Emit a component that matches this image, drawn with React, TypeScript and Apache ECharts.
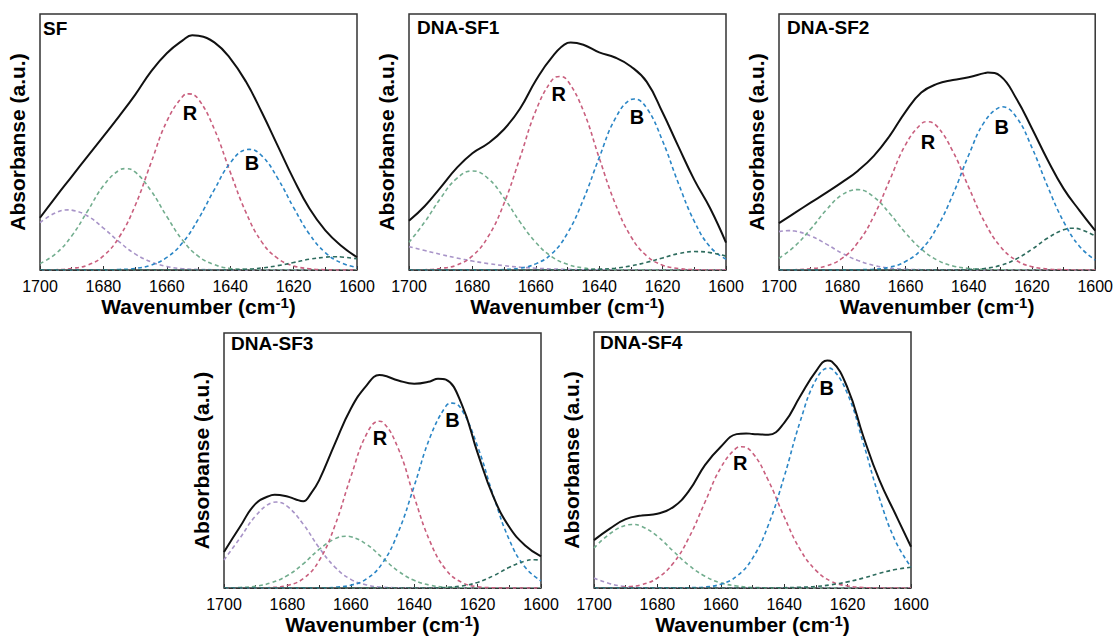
import React, { useEffect, useRef } from "react";
import * as echarts from "echarts";

// Sample positions (cm-1), left to right on the reversed axis
const wavenumbers = [1700, 1695, 1690, 1685, 1680, 1675, 1670, 1665, 1660, 1655, 1650, 1645, 1640, 1635, 1630, 1625, 1620, 1615, 1610, 1605, 1600];

const panelNames = ["SF", "DNA-SF1", "DNA-SF2", "DNA-SF3", "DNA-SF4"];

// SF
const sfTotal = [20.4, 28.6, 36.5, 44.4, 52.2, 60.1, 68.4, 77.5, 84.7, 89.7, 91.5, 88.9, 82.7, 73.5, 61.5, 48.5, 35.5, 24.0, 15.5, 9.5, 5.0];
const sfPurple = [18.5, 22.4, 23.4, 21.1, 16.4, 11.0, 6.3, 3.2, 1.4, 0.5, 0.2, 0.1, 0, 0, 0, 0, 0, 0, 0, 0, 0];
const sfGreen = [2.5, 6.4, 13.3, 23.0, 32.9, 39.0, 38.3, 31.0, 20.9, 11.6, 5.3, 2.1, 0.6, 0.2, 0, 0, 0, 0, 0, 0, 0];
const sfR = [0, 0.1, 0.6, 1.9, 5.5, 12.9, 25.1, 41.8, 58.1, 67.8, 66.7, 55.0, 38.3, 22.4, 10.9, 4.5, 1.6, 0.5, 0.1, 0, 0];
const sfB = [0, 0, 0, 0, 0, 0.2, 0.6, 1.9, 4.9, 10.7, 20.0, 31.4, 41.8, 47.0, 44.6, 35.8, 24.4, 14.0, 6.8, 2.8, 1.0];
const sfTeal = [0, 0, 0, 0, 0, 0, 0, 0, 0, 0, 0, 0, 0.1, 0.3, 0.8, 1.7, 2.9, 4.2, 5.0, 5.1, 4.4];
// extrema read between the sample positions: [wavenumber, value]
const sfPeaks = {
  purple: [[1691, 23.5]],
  green: [[1673, 39.6]],
  r: [[1653, 68.8]],
  b: [[1634, 47.1]],
  teal: [[1607, 5.2]],
  total: [[1652, 91.7]],
};

// DNA-SF1
const sf1Total = [19.2, 25.0, 32.3, 39.8, 45.6, 49.5, 55.0, 63.0, 74.0, 83.0, 88.7, 88.0, 85.0, 83.0, 79.5, 73.5, 61.5, 48.2, 35.2, 24.1, 10.7];
const sf1Purple = [9.1, 7.6, 6.1, 4.7, 3.5, 2.5, 1.7, 1.1, 0.7, 0.4, 0.25, 0.1, 0.1, 0, 0, 0, 0, 0, 0, 0, 0];
const sf1Green = [10.8, 18.8, 28.1, 35.7, 38.7, 35.7, 28.1, 18.8, 10.8, 5.2, 2.2, 0.8, 0.2, 0.1, 0, 0, 0, 0, 0, 0, 0];
const sf1R = [0, 0.1, 0.6, 1.9, 5.5, 13.1, 26.1, 43.8, 62.2, 74.0, 74.0, 62.2, 43.8, 26.1, 13.1, 5.5, 1.9, 0.6, 0.1, 0, 0];
const sf1B = [0, 0, 0, 0, 0, 0, 0.2, 0.7, 2.4, 6.3, 14.4, 27.5, 43.9, 59.0, 66.6, 63.2, 50.4, 33.8, 19.0, 9.0, 4.2];
const sf1Teal = [0, 0, 0, 0, 0, 0, 0, 0, 0, 0, 0, 0.1, 0.3, 0.7, 1.6, 3.0, 4.7, 6.4, 7.2, 6.8, 5.4];
const sf1Peaks = {
  purple: [],
  green: [],
  r: [[1652.5, 75.6]],
  b: [[1629, 66.8]],
  teal: [],
  total: [[1649, 88.9]],
};

// DNA-SF2
const sf2Total = [18.3, 22.3, 26.3, 30.2, 34.3, 38.8, 44.6, 52.4, 61.8, 69.3, 72.7, 74.2, 75.3, 76.9, 75.8, 67.1, 55.3, 42.9, 31.8, 23.3, 15.4];
const sf2Purple = [15.0, 15.2, 13.3, 10.1, 6.5, 3.7, 1.8, 0.7, 0.3, 0.1, 0, 0, 0, 0, 0, 0, 0, 0, 0, 0, 0];
const sf2Green = [4.6, 9.3, 16.0, 23.5, 29.4, 31.4, 28.5, 22.1, 14.5, 8.2, 3.9, 1.6, 0.6, 0.2, 0.1, 0, 0, 0, 0, 0, 0];
const sf2R = [0, 0.1, 0.5, 1.6, 4.6, 10.8, 21.1, 35.1, 48.9, 57.1, 56.1, 46.3, 32.3, 18.8, 9.2, 3.8, 1.3, 0.4, 0.1, 0, 0];
const sf2B = [0, 0, 0, 0, 0, 0.1, 0.3, 1.1, 3.3, 8.0, 16.7, 29.5, 44.9, 57.9, 63.7, 59.8, 47.8, 32.5, 18.9, 9.3, 3.9];
const sf2Teal = [0, 0, 0, 0, 0, 0, 0, 0, 0, 0, 0, 0, 0.2, 0.6, 1.8, 4.3, 8.1, 12.5, 15.7, 16.0, 13.3];
const sf2Peaks = {
  purple: [[1697, 15.4]],
  green: [],
  r: [[1653, 57.9]],
  b: [[1629.5, 63.8]],
  teal: [[1607, 16.3]],
  total: [[1634, 77.1]],
};

// DNA-SF3
const sf3Total = [14.1, 23.9, 33.1, 36.4, 35.9, 34.0, 42.2, 56.6, 70.3, 79.5, 83.4, 81.4, 80.1, 81.0, 81.7, 72.0, 53.0, 35.7, 23.9, 16.7, 12.4];
const sf3Purple = [11.0, 19.5, 28.3, 33.4, 32.0, 25.0, 15.8, 8.2, 3.4, 1.2, 0.3, 0.1, 0, 0, 0, 0, 0, 0, 0, 0, 0];
const sf3Green = [0, 0.2, 0.7, 2.1, 4.9, 9.5, 15.1, 19.3, 20.1, 17.1, 11.8, 6.6, 3.0, 1.1, 0.3, 0.1, 0, 0, 0, 0, 0];
const sf3R = [0, 0, 0, 0.2, 1.0, 3.7, 10.7, 24.5, 43.6, 60.4, 65.1, 54.6, 35.7, 18.2, 7.2, 2.2, 0.5, 0.1, 0, 0, 0];
const sf3B = [0, 0, 0, 0, 0, 0, 0, 0.3, 1.1, 3.6, 9.8, 22.0, 40.0, 59.1, 71.3, 69.9, 55.5, 36.1, 18.9, 8.1, 2.8];
const sf3Teal = [0, 0, 0, 0, 0, 0, 0, 0, 0, 0, 0, 0, 0, 0, 0.2, 0.8, 2.2, 4.8, 8.1, 10.6, 10.9];
const sf3Peaks = {
  purple: [[1683.5, 33.7]],
  green: [[1661.5, 20.3]],
  r: [[1651, 65.4]],
  b: [[1628, 72.5]],
  teal: [[1602, 11.1]],
  total: [[1684, 36.6], [1677.5, 34.8], [1672.5, 37.2], [1651, 83.5], [1632.5, 82.1]],
};

// DNA-SF4
const sf4Total = [18.7, 23.2, 26.9, 28.3, 29.0, 31.6, 38.0, 48.0, 55.2, 60.1, 60.2, 59.9, 64.5, 74.8, 84.6, 88.5, 78.1, 59.1, 42.2, 29.1, 16.1];
const sf4Purple = [3.9, 1.7, 0.5, 0.1, 0, 0, 0, 0, 0, 0, 0, 0, 0, 0, 0, 0, 0, 0, 0, 0, 0];
const sf4Green = [15.6, 21.2, 24.5, 24.1, 20.2, 14.4, 8.8, 4.6, 2.0, 0.8, 0.2, 0.1, 0, 0, 0, 0, 0, 0, 0, 0, 0];
const sf4R = [0, 0, 0.4, 1.3, 3.9, 9.7, 19.8, 33.5, 47.0, 54.7, 52.8, 42.0, 27.8, 15.1, 6.9, 2.5, 0.8, 0.2, 0, 0, 0];
const sf4B = [0, 0, 0, 0, 0, 0, 0.1, 0.4, 1.5, 4.6, 11.6, 24.6, 43.5, 64.9, 81.3, 85.6, 75.8, 56.4, 35.3, 18.6, 8.2];
const sf4Teal = [0, 0, 0, 0, 0, 0, 0, 0, 0, 0, 0, 0, 0.1, 0.3, 0.6, 1.3, 2.4, 3.9, 5.7, 7.2, 8.1];
const sf4Peaks = {
  purple: [],
  green: [[1688, 24.8]],
  r: [[1653.5, 55.2]],
  b: [[1626, 85.9]],
  teal: [],
  total: [[1652, 60.4], [1626.4, 88.9]],
};

// Anchors of the "R" and "B" annotations, in data units [wavenumber, absorbance]
const rLabelAt = [[1652.7, 61.2], [1652.8, 68.6], [1652.9, 50.1], [1650.8, 58.7], [1653.9, 49.0]];
const bLabelAt = [[1633.1, 41.8], [1628.1, 59.9], [1629.6, 56.0], [1627.9, 65.9], [1626.6, 78.0]];

const totals = [sfTotal, sf1Total, sf2Total, sf3Total, sf4Total];
const components = [
  [sfPurple, sfGreen, sfR, sfB, sfTeal],
  [sf1Purple, sf1Green, sf1R, sf1B, sf1Teal],
  [sf2Purple, sf2Green, sf2R, sf2B, sf2Teal],
  [sf3Purple, sf3Green, sf3R, sf3B, sf3Teal],
  [sf4Purple, sf4Green, sf4R, sf4B, sf4Teal],
];
const peaks: any[] = [sfPeaks, sf1Peaks, sf2Peaks, sf3Peaks, sf4Peaks];
const compKeys = ["purple", "green", "r", "b", "teal"];

const FONT = "'Liberation Sans', Arial, Helvetica, sans-serif";
const COMP_COLORS = ["#a894c8", "#72ad8e", "#c95f7e", "#2b86c6", "#2e6c5e"];
const INK = "#000";

const layout = [
  { left: 40, top: 14, h: 256, tl: 43, tt: 19 },
  { left: 409, top: 14, h: 256, tl: 417, tt: 18 },
  { left: 779, top: 14, h: 256, tl: 787, tt: 18 },
  { left: 224, top: 333, h: 255, tl: 231, tt: 334 },
  { left: 594, top: 332, h: 256, tl: 600, tt: 333 },
];
const PW = 317;

function pairs(arr: number[], extra: number[][]) {
  const pts = arr.map((v, i) => [wavenumbers[i], v]);
  extra.forEach((p) => {
    const at = pts.findIndex((q) => q[0] === p[0]);
    if (at >= 0) pts[at] = [p[0], p[1]];
    else pts.push([p[0], p[1]]);
  });
  pts.sort((a, b) => b[0] - a[0]);
  return pts;
}

export default function App() {
  const ref = useRef<HTMLDivElement>(null);

  useEffect(() => {
    if (!ref.current) return;
    const chart = echarts.init(ref.current, null, { renderer: "svg" });

    const series: any[] = [];
    panelNames.forEach((_, i) => {
      components[i].forEach((comp, k) => {
        series.push({
          type: "line",
          xAxisIndex: i,
          yAxisIndex: i,
          data: pairs(comp, peaks[i][compKeys[k]]),
          smooth: 0.45,
          showSymbol: false,
          symbol: "none",
          lineStyle: { color: COMP_COLORS[k], width: 1.6, type: [4, 3] },
          z: 2,
        });
      });
      series.push({
        type: "line",
        xAxisIndex: i,
        yAxisIndex: i,
        data: pairs(totals[i], peaks[i].total),
        smooth: 0.45,
        showSymbol: false,
        symbol: "none",
        lineStyle: { color: "#111", width: 2 },
        z: 3,
        markLine: {
          silent: true,
          symbol: "none",
          label: { show: false },
          lineStyle: { color: "#333", type: [4, 3], width: 1 },
          data: [{ yAxis: 0 }],
        },
      });
      series.push({
        type: "scatter",
        xAxisIndex: i,
        yAxisIndex: i,
        symbolSize: 0,
        silent: true,
        z: 4,
        itemStyle: { opacity: 1 },
        data: [
          { value: rLabelAt[i], label: { formatter: "R" } },
          { value: bLabelAt[i], label: { formatter: "B" } },
        ],
        label: {
          show: true,
          position: "inside",
          color: INK,
          opacity: 1,
          textBorderWidth: 0,
          fontSize: 20,
          fontWeight: "bold",
          fontFamily: FONT,
        },
      });
    });

    const option: any = {
      animation: false,
      backgroundColor: "#ffffff",
      title: panelNames.map((n, i) => ({
        text: n,
        left: layout[i].tl,
        top: layout[i].tt,
        padding: 0,
        textStyle: { fontSize: 19, fontWeight: "bold", color: INK, fontFamily: FONT },
      })),
      grid: layout.map((g) => ({
        left: g.left,
        top: g.top,
        width: PW,
        height: g.h,
        show: true,
        borderColor: "#333",
        borderWidth: 1.5,
        backgroundColor: "transparent",
      })),
      xAxis: panelNames.map((_, i) => ({
        type: "value",
        gridIndex: i,
        min: 1600,
        max: 1700,
        interval: 20,
        inverse: true,
        axisLine: { show: false },
        axisTick: { show: true, inside: true, length: 4, lineStyle: { color: "#333", width: 1 } },
        minorTick: { show: true, splitNumber: 2, length: 3, lineStyle: { color: "#333", width: 1 } },
        splitLine: { show: false },
        axisLabel: {
          fontSize: 16,
          color: INK,
          fontFamily: FONT,
          margin: 8,
          formatter: (v: number) => String(v),
        },
        name: "{t|Wavenumber (cm}{s|-1}{t|)}",
        nameLocation: "middle",
        nameGap: 24,
        nameTextStyle: {
          rich: {
            t: { fontSize: 21, fontWeight: "bold", color: INK, fontFamily: FONT, lineHeight: 24 },
            s: { fontSize: 15, fontWeight: "bold", color: INK, fontFamily: FONT, lineHeight: 14, verticalAlign: "top" },
          },
        },
      })),
      yAxis: panelNames.map((_, i) => ({
        type: "value",
        gridIndex: i,
        min: 0,
        max: 100,
        axisLine: { show: false },
        axisTick: { show: false },
        axisLabel: { show: false },
        splitLine: { show: false },
        name: "Absorbanse (a.u.)",
        nameLocation: "middle",
        nameRotate: 90,
        nameGap: 12,
        nameTextStyle: { fontSize: 21, fontWeight: "bold", color: INK, fontFamily: FONT },
      })),
      series,
    };

    chart.setOption(option);
    return () => chart.dispose();
  }, []);

  return (
    <div
      ref={ref}
      style={{ position: "fixed", left: 0, top: 0, width: 1116, height: 639, background: "#fff" }}
    />
  );
}
